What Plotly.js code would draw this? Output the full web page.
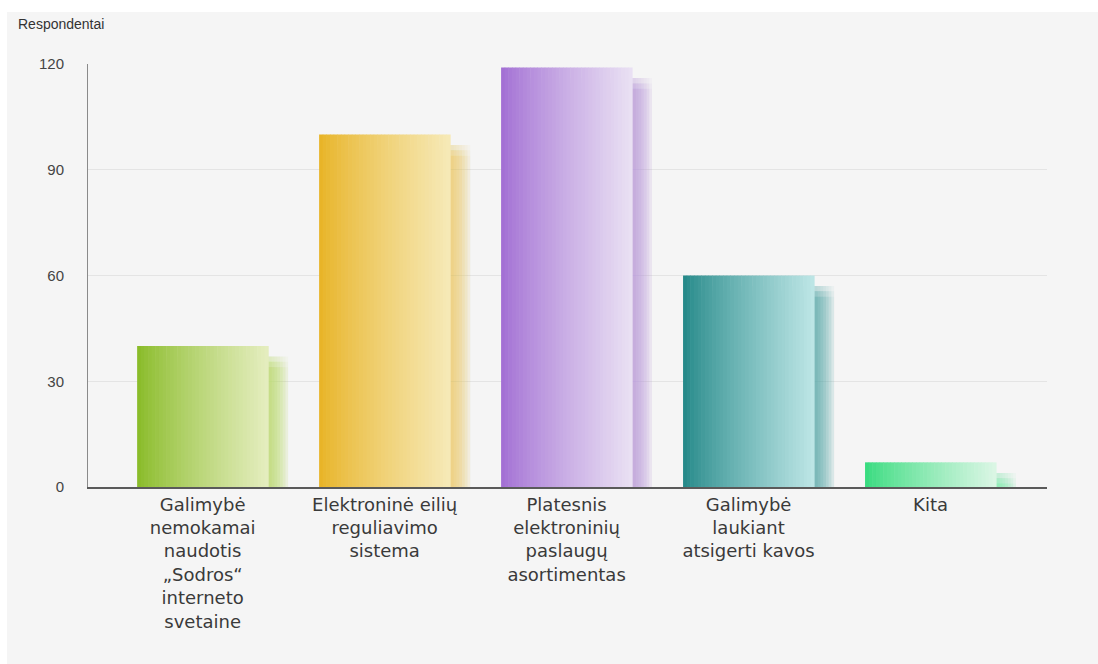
<!DOCTYPE html>
<html>
<head>
<meta charset="utf-8">
<script src="https://cdn.plot.ly/plotly-3.0.1.min.js"></script>
<style>
html,body{margin:0;padding:0;background:#ffffff;}
#chart{position:absolute;left:7px;top:12px;width:1091px;height:652px;}
</style>
</head>
<body>
<div id="chart"></div>
<script>
// ---- data ----
const categories = [
  "Galimybė<br>nemokamai<br>naudotis<br>„Sodros“<br>interneto<br>svetaine",
  "Elektroninė eilių<br>reguliavimo<br>sistema",
  "Platesnis<br>elektroninių<br>paslaugų<br>asortimentas",
  "Galimybė<br>laukiant<br>atsigerti kavos",
  "Kita"
];
const values = [40, 100, 119, 60, 7];
const yTicks = [0, 30, 60, 90, 120];
const yAxisLabel = "Respondentai";

// ---- styles ----
const leftColors  = [[138,188,42],[232,180,40],[163,112,212],[38,138,138],[58,220,128]];
const rightColors = [[228,237,190],[246,233,182],[233,224,243],[188,229,229],[218,246,228]];
const shadowColors = [[180,215,100],[236,200,100],[190,155,225],[90,175,175],[120,230,165]];

const barW = 0.72;
const nStrips = 36;
const traces = [];

// soft shadow layers (behind bars)
const shadowShifts = [0.02, 0.035, 0.05, 0.065, 0.08, 0.095, 0.11];
const shadowDrops = [3, 4.5, 6];
shadowShifts.forEach((s) => {
  shadowDrops.forEach((d) => {
    traces.push({
      type: 'bar',
      x: categories,
      y: values.map(v => Math.max(v - d, 0)),
      width: barW,
      offset: -barW / 2 + s,
      marker: {
        color: shadowColors.map(c => `rgba(${c[0]},${c[1]},${c[2]},0.06)`),
        line: {width: 0}
      },
      hoverinfo: 'skip',
      showlegend: false
    });
  });
});

// gradient strips
const step = barW / nStrips;
for (let k = 0; k < nStrips; k++) {
  let t = k / (nStrips - 1);
  t = Math.pow(t, 0.85);
  const cols = leftColors.map((lc, i) => {
    const rc = rightColors[i];
    const r = Math.round(lc[0] + (rc[0] - lc[0]) * t);
    const g = Math.round(lc[1] + (rc[1] - lc[1]) * t);
    const b = Math.round(lc[2] + (rc[2] - lc[2]) * t);
    return `rgb(${r},${g},${b})`;
  });
  traces.push({
    type: 'bar',
    x: categories,
    y: values,
    width: step * 1.15,
    offset: -barW / 2 + k * step,
    marker: {color: cols, line: {width: 0}},
    hoverinfo: 'skip',
    showlegend: false
  });
}

const layout = {
  width: 1091,
  height: 652,
  margin: {l: 81, r: 51, t: 52, b: 177},
  paper_bgcolor: '#f5f5f5',
  plot_bgcolor: '#f5f5f5',
  barmode: 'overlay',
  showlegend: false,
  xaxis: {
    type: 'category',
    range: [-0.63, 4.64],
    showgrid: false,
    showline: true,
    linecolor: '#5a5a5a',
    linewidth: 2,
    ticks: '',
    tickfont: {family: 'DejaVu Sans', size: 18, color: '#3a3a3a'},
    fixedrange: true
  },
  yaxis: {
    range: [0, 120],
    tickvals: yTicks,
    ticktext: yTicks.map(String),
    showgrid: true,
    gridcolor: '#e4e4e4',
    gridwidth: 1,
    zeroline: false,
    showline: true,
    linecolor: '#8a8a8a',
    linewidth: 1,
    ticks: 'outside',
    ticklen: 20,
    tickcolor: 'rgba(0,0,0,0)',
    tickfont: {family: 'Liberation Sans', size: 15, color: '#444'},
    fixedrange: true
  },
  annotations: [{
    text: yAxisLabel,
    xref: 'paper', yref: 'paper',
    x: -0.075, y: 1.095,
    xanchor: 'left', yanchor: 'middle',
    showarrow: false,
    font: {family: 'Liberation Sans', size: 14, color: '#333'}
  }]
};

Plotly.newPlot('chart', traces, layout, {displayModeBar: false, staticPlot: true});
</script>
</body>
</html>
